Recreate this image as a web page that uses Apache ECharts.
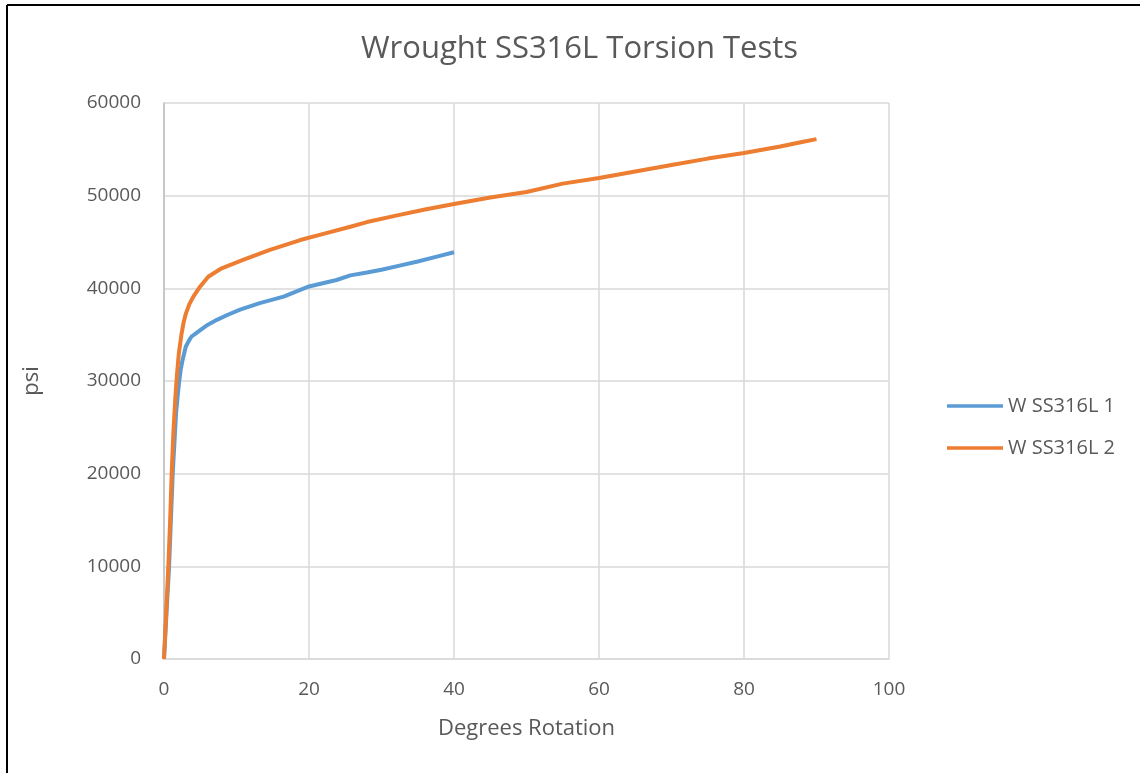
<!DOCTYPE html>
<html>
<head>
<meta charset="utf-8">
<script src="https://cdn.jsdelivr.net/npm/echarts@6/dist/echarts.min.js"></script>
<style>
html,body{margin:0;padding:0;background:#fff;}
#chart{width:1140px;height:773px;}
</style>
</head>
<body>
<div id="chart"></div>
<script>
// Data
const titleText = 'Wrought SS316L Torsion Tests';
const seriesNames = ['W SS316L 1', 'W SS316L 2'];
const xTicks = [0, 20, 40, 60, 80, 100];
const yTicks = [0, 10000, 20000, 30000, 40000, 50000, 60000];

const deg1 = [0, 0.35, 0.7, 0.95, 1.2, 1.45, 1.66, 1.9, 2.1, 2.3, 2.57, 3.0, 3.4, 3.8, 4.4, 5.0, 6.0, 7.3, 8.8, 10.5, 13.2, 16.5, 20.0, 23.8, 25.7, 28.0, 30.0, 32.5, 35.0, 37.5, 40.0];
const psi1 = [0, 5000, 10000, 15000, 20000, 23500, 26500, 28500, 30000, 31200, 32300, 33700, 34300, 34800, 35150, 35500, 36050, 36600, 37150, 37700, 38400, 39100, 40200, 40900, 41400, 41700, 42000, 42450, 42900, 43400, 43900];

const deg2 = [0, 0.3, 0.6, 0.85, 1.06, 1.3, 1.55, 1.8, 2.05, 2.4, 2.7, 3.03, 3.5, 4.05, 4.97, 6.1, 7.95, 10.9, 14.6, 18.8, 21.6, 25.7, 28.0, 32.0, 36.0, 40.0, 45.0, 50.0, 55.0, 60.0, 65.0, 70.0, 75.0, 80.0, 85.0, 88.0, 90.0];
const psi2 = [0, 5000, 10000, 15000, 20000, 24500, 28000, 30800, 33000, 35000, 36300, 37300, 38300, 39100, 40180, 41250, 42160, 43060, 44140, 45210, 45800, 46650, 47150, 47850, 48500, 49100, 49800, 50400, 51300, 51900, 52600, 53300, 54000, 54600, 55300, 55800, 56100];

const pairs = (xs, ys) => xs.map((x, i) => [x, ys[i]]);

const textColor = '#595959';
const fontFam = '"Open Sans", "Liberation Sans", sans-serif';

const chart = echarts.init(document.getElementById('chart'), null, {renderer: 'canvas'});
chart.setOption({
  backgroundColor: '#ffffff',
  animation: false,
  title: {
    text: titleText,
    left: 356,
    top: 29,
    textStyle: {fontFamily: fontFam, fontSize: 31, fontWeight: 'normal', color: textColor}
  },
  grid: {left: 164, top: 103, width: 725, height: 556, containLabel: false},
  legend: {
    orient: 'vertical',
    left: 942,
    top: 391,
    itemWidth: 56,
    itemHeight: 14,
    itemGap: 22,
    icon: 'path://M0,6 L56,6 L56,9.5 L0,9.5 Z',
    textStyle: {fontFamily: fontFam, fontSize: 20, color: textColor},
    data: seriesNames
  },
  xAxis: {
    type: 'value',
    min: xTicks[0],
    max: xTicks[xTicks.length - 1],
    interval: 20,
    name: 'Degrees Rotation',
    nameLocation: 'middle',
    nameGap: 59,
    nameTextStyle: {fontFamily: fontFam, fontSize: 22, color: textColor},
    axisLine: {show: true, lineStyle: {color: '#D9D9D9', width: 1.5}},
    axisTick: {show: false},
    axisLabel: {fontFamily: fontFam, fontSize: 19, color: textColor, margin: 21},
    splitLine: {show: true, lineStyle: {color: '#D9D9D9', width: 1.5}}
  },
  yAxis: {
    type: 'value',
    min: yTicks[0],
    max: yTicks[yTicks.length - 1],
    interval: 10000,
    name: 'psi',
    nameLocation: 'middle',
    nameGap: 121,
    nameTextStyle: {fontFamily: fontFam, fontSize: 22, color: textColor},
    axisLine: {show: true, lineStyle: {color: '#BFBFBF', width: 1.5}},
    axisTick: {show: false},
    axisLabel: {fontFamily: fontFam, fontSize: 19, color: textColor, margin: 23, formatter: v => String(v)},
    splitLine: {show: true, lineStyle: {color: '#D9D9D9', width: 1.5}}
  },
  series: [
    {
      name: seriesNames[0], type: 'line', data: pairs(deg1, psi1),
      showSymbol: false, smooth: false,
      lineStyle: {color: '#5B9BD5', width: 4, join: 'round'}, itemStyle: {color: '#5B9BD5'}
    },
    {
      name: seriesNames[1], type: 'line', data: pairs(deg2, psi2),
      showSymbol: false, smooth: false,
      lineStyle: {color: '#ED7D31', width: 4, join: 'round'}, itemStyle: {color: '#ED7D31'}
    }
  ],
  graphic: [
    {type: 'line', shape: {x1: 7, y1: 5, x2: 1140, y2: 5}, style: {stroke: '#000', lineWidth: 2}},
    {type: 'line', shape: {x1: 7, y1: 5, x2: 7, y2: 773}, style: {stroke: '#000', lineWidth: 2}}
  ]
});
</script>
</body>
</html>
